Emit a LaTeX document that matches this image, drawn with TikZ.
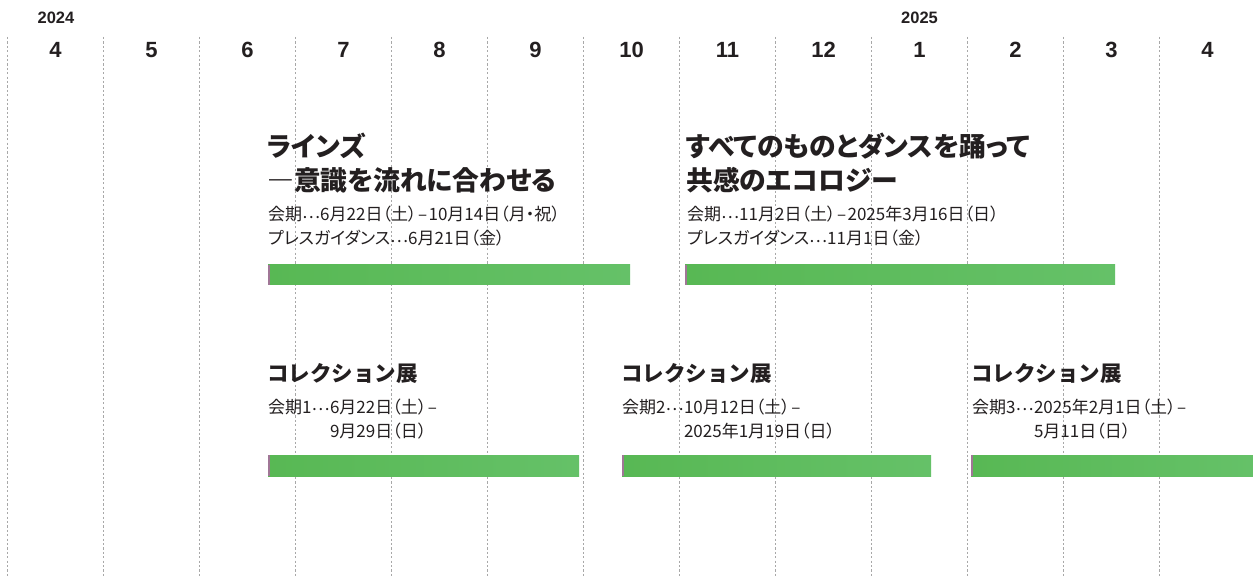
\documentclass[tikz,border=0pt]{standalone}
\usepackage{fontspec}
\setmainfont{Liberation Sans}
\newfontfamily\jp{Noto Sans CJK JP}
\newfontfamily\jpp[RawFeature=+palt]{Noto Sans CJK JP}
\definecolor{ink}{HTML}{231F20}
\definecolor{gridc}{HTML}{A8A8A8}
\definecolor{gA}{RGB}{88,184,84}
\definecolor{gB}{RGB}{101,193,104}
\definecolor{mauve}{RGB}{160,118,150}
\newcommand{\dts}{\raisebox{2.5pt}{…}}
\newcommand{\ndash}{\hspace{1.5pt}–\hspace{1.5pt}}
\tikzset{
  gridline/.style={draw=gridc, line width=0.9pt, dash pattern=on 2.2pt off 2.2pt},
  month/.style={font=\fontsize{22}{22}\selectfont\bfseries, text=ink, anchor=base, inner sep=0pt},
  yearlbl/.style={font=\fontsize{16.5}{16.5}\selectfont\bfseries, text=ink, anchor=base, inner sep=0pt},
  ttl/.style={font=\jpp\bfseries\fontsize{26.8}{26.8}\selectfont, text=ink, anchor=base west, inner sep=0pt},
  ctl/.style={font=\jp\bfseries\fontsize{21.5}{21.5}\selectfont, text=ink, anchor=base west, inner sep=0pt},
  body/.style={font=\jpp\fontsize{17}{17}\selectfont, text=ink, anchor=base west, inner sep=0pt},
  barshade/.style={left color=gA, right color=gB},
}
\newcommand{\gbar}[4]{%
  \shade[barshade] (#1,#2) rectangle (#3,#4);
  \fill[mauve] (#1,#2) rectangle ({#1+2},#4);}
\begin{document}
\begin{tikzpicture}[x=1pt,y=-1pt]
\useasboundingbox (0,0) rectangle (1253,577);
\fill[white] (0,0) rectangle (1253,577);
% grid
\foreach \k in {0,...,12}{
  \draw[gridline] ({7.5+96*\k},37) -- ({7.5+96*\k},577);
}
% years
\node[yearlbl] (y2024) at (56,24) {2024};
\node[yearlbl] (y2025) at (919.5,24) {2025};
% months
\foreach \m [count=\i from 0] in {4,5,6,7,8,9,10,11,12,1,2,3,4}{
  \node[month] (m\i) at ({55.5+96*\i},57.5) {\m};
}
% exhibition 1
\node[ttl] (e1a) at (267,157) {ラインズ};
\node[ttl] (e1b) at (267,191) {―意識を流れに合わせる};
\node[body] (e1c) at (268,221) {会期\dts 6月22日（土）\ndash 10月14日（月・祝）};
\node[body] (e1d) at (268,245) {プレスガイダンス\dts 6月21日（金）};
\gbar{268}{265}{630}{285}
% exhibition 2
\node[ttl] (e2a) at (686,157) {すべてのものとダンスを踊って};
\node[ttl] (e2b) at (686,191) {共感のエコロジー};
\node[body] (e2c) at (687,221) {会期\dts 11月2日（土）\ndash 2025年3月16日（日）};
\node[body] (e2d) at (687,245) {プレスガイダンス\dts 11月1日（金）};
\gbar{685}{265}{1115}{285}
% collection 1
\node[ctl] (c1t) at (267,381) {コレクション展};
\node[body] (c1p) at (268,413) {会期1\dts};
\node[body] (c1d) at (c1p.base east) {6月22日（土）\ndash};
\node[body] (c1e) at ([yshift=-24pt]c1d.base west) {9月29日（日）};
\gbar{268}{455}{579}{476}
% collection 2
\node[ctl] (c2t) at (621,381) {コレクション展};
\node[body] (c2p) at (622,413) {会期2\dts};
\node[body] (c2d) at (c2p.base east) {10月12日（土）\ndash};
\node[body] (c2e) at ([yshift=-24pt]c2d.base west) {2025年1月19日（日）};
\gbar{622}{455}{931}{476}
% collection 3
\node[ctl] (c3t) at (971,381) {コレクション展};
\node[body] (c3p) at (972,413) {会期3\dts};
\node[body] (c3d) at (c3p.base east) {2025年2月1日（土）\ndash};
\node[body] (c3e) at ([yshift=-24pt]c3d.base west) {5月11日（日）};
\gbar{971}{455}{1253}{476}
\end{tikzpicture}
\end{document}
